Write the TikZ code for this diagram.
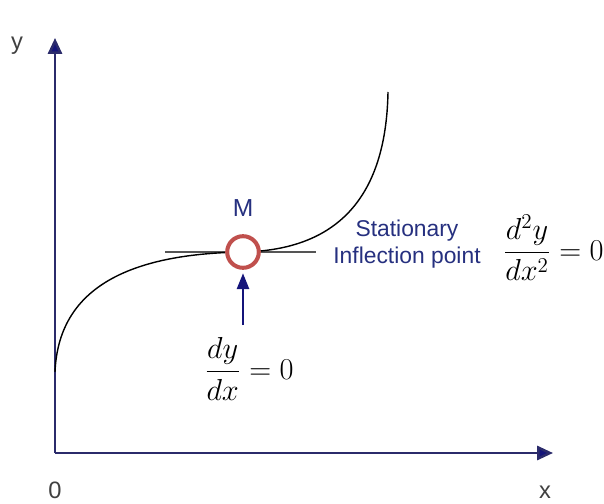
\documentclass[tikz,border=0pt]{standalone}
\usepackage{amsmath}
\usepackage{fontspec}
\setmainfont{Liberation Sans}
\usepackage{tikz}
\usetikzlibrary{arrows.meta, positioning}
\definecolor{AxisNavy}{HTML}{2B2B6B}
\definecolor{TipNavy}{HTML}{14147A}
\definecolor{LabelBlue}{HTML}{26307F}
\definecolor{RingRed}{HTML}{C0504D}
\definecolor{TangentGray}{HTML}{555555}

\tikzset{
  axis/.style={AxisNavy, line width=1.4pt, -{Triangle[length=9pt, width=8pt, fill=TipNavy]}},
  lbl/.style={font=\fontsize{13}{15}\selectfont, text=LabelBlue},
  axlbl/.style={font=\fontsize{13.5}{15}\selectfont, text=black!75},
  eqn/.style={font=\fontsize{17}{20}\selectfont},
  ring/.style={circle, draw=RingRed, line width=2.3pt, fill=white, minimum size=18pt, inner sep=0pt},
}

\begin{document}
\begin{tikzpicture}[x=0.02cm, y=-0.02cm]
  \useasboundingbox (0,0) rectangle (604,503);

  % Axes
  \coordinate (O) at (55,453);
  \coordinate (ytop) at (55,38);
  \coordinate (xend) at (553,453);
  \draw[axis] (O) -- (ytop);
  \draw[axis] (O) -- (xend);
  \node[axlbl] (ylab) at (17,46) {y};
  \node[axlbl] (olab) at (55,490) {0};
  \node[axlbl] (xlab) at (545,492) {x};

  % Tangent at M
  \coordinate (tl) at (165,252);
  \coordinate (tr) at (316,252);
  \draw[TangentGray, line width=1.1pt] (tl) -- (tr);

  % Curve
  \coordinate (cstart) at (55,372);
  \coordinate (cmid) at (243,252);
  \coordinate (cend) at (388,92);
  \draw[black, line width=0.8pt] (cstart) .. controls (58,300) and (110,254) .. (cmid)
    .. controls (335,250) and (386,200) .. (cend);

  % Inflection point
  \node[ring] (M) at (cmid) {};
  \node[lbl, font=\fontsize{14}{16}\selectfont] (mlab) at (243,208) {M};

  % First derivative
  \node[eqn] (dydx) at (249,369) {$\dfrac{dy}{dx}=0$};
  \coordinate (abot) at (243,325);
  \draw[TipNavy, line width=1.1pt, -{Triangle[length=9pt, width=7pt]}] (abot) -- ([yshift=-2pt]M.south);

  % Second derivative
  \node[lbl, align=center] (stat) at (407,244) {Stationary\\Inflection point};
  \node[eqn, anchor=west] (d2y) at (497,248) {$\dfrac{d^2y}{dx^2}=0$};
\end{tikzpicture}
\end{document}
